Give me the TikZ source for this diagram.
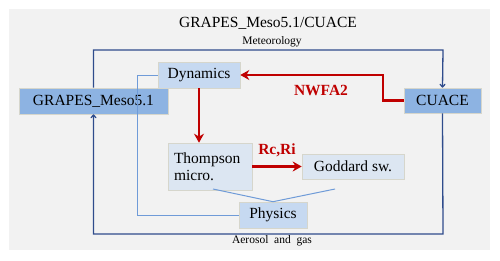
\documentclass[tikz,border=0pt]{standalone}
\usepackage{fontspec}
\setmainfont{Liberation Serif}
\usetikzlibrary{arrows.meta}
\definecolor{bgray}{HTML}{F2F2F2}
\definecolor{navy}{HTML}{2F4C8C}
\definecolor{midblue}{HTML}{8DB3E2}
\definecolor{lblue}{HTML}{C6D9F1}
\definecolor{llblue}{HTML}{DCE6F2}
\definecolor{lline}{HTML}{6F9BD8}
\definecolor{dred}{HTML}{C00000}
\definecolor{bord}{HTML}{D6D6CC}
\begin{document}
\begin{tikzpicture}[x=1pt,y=-1pt,
  box/.style={draw=bord,line width=0.6pt,inner sep=0pt,font=\fontsize{15.5}{17}\selectfont},
  darkbox/.style={box,fill=midblue},
  lightbox/.style={box,fill=lblue},
  paleBox/.style={box,fill=llblue},
  navyline/.style={draw=navy,line width=1.3pt},
  navyarrow/.style={navyline,-{To[length=4pt,width=6pt]}},
  lightline/.style={draw=lline,line width=1pt},
  redarrow/.style={draw=dred,line width=2.8pt,-{Stealth[length=9pt,width=10pt]}},
  lbl/.style={font=\fontsize{15.5}{17}\selectfont\bfseries,text=dred,inner sep=0pt},
  small/.style={font=\fontsize{11.5}{13}\selectfont,inner sep=0pt}]
\useasboundingbox (0,0) rectangle (500,260);
\fill[white] (0,0) rectangle (500,260);
\fill[bgray] (9,9) rectangle (490,250);
% titles
\node[inner sep=0pt,font=\fontsize{15.5}{17}\selectfont] (title) at (268,23) {GRAPES\_Meso5.1/CUACE};
\node[small] (met) at (272,42) {Meteorology};
\node[small] (aer) at (272,241) {Aerosol\ \ and\ \ gas};
% boxes
\node[darkbox,minimum width=149pt,minimum height=26pt] (grapes) at (93.5,101) {GRAPES\_Meso5.1};
\node[darkbox,minimum width=77pt,minimum height=25pt] (cuace) at (442.5,100.5) {CUACE};
\node[lightbox,minimum width=82pt,minimum height=26pt] (dyn) at (199,75) {Dynamics};
\node[paleBox,minimum width=84pt,minimum height=47pt,align=left,text width=72pt] (thom) at (210,166.5) {Thompson\\micro.};
\node[paleBox,minimum width=102pt,minimum height=25pt] (godd) at (353,166.5) {Goddard sw.};
\node[lightbox,minimum width=68pt,minimum height=26pt] (phys) at (273,215) {Physics};
% coordinates
\coordinate (tr) at (443,50);
\coordinate (br) at (443,234);
\coordinate (pl) at (137,215);
\coordinate (nk) at (383,75);
\coordinate (pa) at (213,189);
\coordinate (pb) at (335,189);
% outer loop
\draw[navyarrow] (grapes.north) |- (tr) -- (cuace.north);
\draw[navyarrow] (cuace.south) -- (br) -| (grapes.south);
% physics lines
\draw[lightline] (dyn.west) -| (pl) -- (phys.west);
\draw[lightline] (pa) -- (phys.north) -- (pb);
% red arrows
\draw[redarrow] (dyn.south) -- (dyn.south |- thom.north);
\draw[redarrow] (thom.east) -- (godd.west);
\draw[redarrow] (cuace.west) -| (nk) -- (dyn.east);
\node[lbl] (rcri) at (277,150) {Rc,Ri};
\node[lbl] (nwfa) at (321,90) {NWFA2};
\end{tikzpicture}
\end{document}
